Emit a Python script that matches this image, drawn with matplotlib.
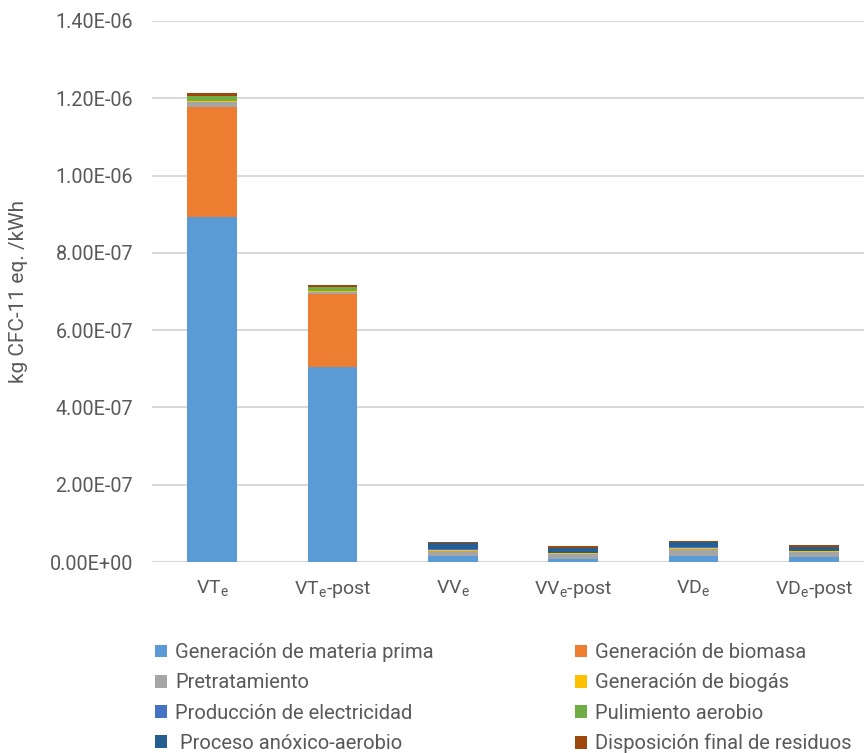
import matplotlib
matplotlib.use("Agg")
import matplotlib.pyplot as plt
from matplotlib.patches import Patch
import numpy as np

plt.rcParams['font.family'] = ['Roboto', 'DejaVu Sans']

categories = [r"VT$_\mathregular{e}$", r"VT$_\mathregular{e}$-post", r"VV$_\mathregular{e}$",
              r"VV$_\mathregular{e}$-post", r"VD$_\mathregular{e}$", r"VD$_\mathregular{e}$-post"]

series_names = ["Generación de materia prima", "Generación de biomasa", "Pretratamiento",
                "Generación de biogás", "Producción de electricidad", "Pulimiento aerobio",
                " Proceso anóxico-aerobio", "Disposición final de residuos"]

materia_prima = [8.93e-7, 5.05e-7, 1.55e-8, 0.90e-8, 1.55e-8, 1.30e-8]
biomasa       = [2.85e-7, 1.88e-7, 0.0, 0.0, 0.0, 0.0]
pretratamiento = [1.30e-8, 0.70e-8, 1.30e-8, 1.10e-8, 1.70e-8, 1.20e-8]
biogas        = [0.10e-8, 0.05e-8, 0.25e-8, 0.25e-8, 0.25e-8, 0.25e-8]
electricidad  = [0.15e-8, 0.15e-8, 0.30e-8, 0.20e-8, 0.30e-8, 0.20e-8]
pulimiento    = [1.30e-8, 1.00e-8, 0.0, 0.0, 0.0, 0.0]
anoxico       = [0.05e-8, 0.05e-8, 1.60e-8, 1.20e-8, 1.50e-8, 0.90e-8]
disposicion   = [0.70e-8, 0.50e-8, 0.20e-8, 0.40e-8, 0.20e-8, 0.50e-8]

series = [materia_prima, biomasa, pretratamiento, biogas, electricidad, pulimiento, anoxico, disposicion]
colors = ["#5B9BD5", "#ED7D31", "#A5A5A5", "#FFC000", "#4472C4", "#70AD47", "#255E91", "#9E480E"]

yticks = [0, 2e-7, 4e-7, 6e-7, 8e-7, 1.0e-6, 1.2e-6, 1.4e-6]
ytick_labels = ["0.00E+00", "2.00E-07", "4.00E-07", "6.00E-07", "8.00E-07", "1.00E-06", "1.20E-06", "1.40E-06"]

W, H = 864, 753
fig = plt.figure(figsize=(W/100, H/100), dpi=100)
ax_left, ax_right, ax_top, ax_bottom = 152, 874, 21, 562
ax = fig.add_axes([ax_left/W, 1 - ax_bottom/H, (ax_right-ax_left)/W, (ax_bottom-ax_top)/H])

x = np.arange(len(categories))
bottom = np.zeros(len(categories))
for vals, c, name in zip(series, colors, series_names):
    ax.bar(x, vals, bottom=bottom, width=0.41, color=c, label=name, zorder=3, linewidth=0)
    bottom += np.array(vals)

ax.set_xlim(-0.5, len(categories) - 0.5)
ax.set_ylim(0, 1.4e-6)
ax.set_yticks(yticks)
ax.set_yticklabels(ytick_labels)
ax.set_xticks(x)
ax.set_xticklabels(categories)
ax.yaxis.grid(True, color="#D9D9D9", linewidth=1.5, zorder=0)
ax.set_axisbelow(True)
for s in ax.spines.values():
    s.set_visible(False)
ax.tick_params(axis='both', length=0, colors="#595959")
ax.tick_params(axis='y', pad=13.5, labelsize=14.2)
ax.tick_params(axis='x', pad=12, labelsize=14)
ax.set_ylabel("kg CFC-11 eq. /kWh", fontsize=15, color="#595959")
ax.yaxis.set_label_coords((28 - ax_left) / (ax_right - ax_left), 0.5)

handles = [Patch(facecolor=c, edgecolor='none') for c in colors]
col1 = [0, 2, 4, 6]
col2 = [1, 3, 5, 7]
kw = dict(fontsize=14.5, frameon=False, handlelength=0.6, handleheight=0.6,
          handletextpad=0.4, labelspacing=0.56, labelcolor="#595959", borderpad=0, borderaxespad=0)
l1 = fig.legend([handles[i] for i in col1], [series_names[i] for i in col1],
                loc='upper left', bbox_to_anchor=(155/W, 1 - 643/H), **kw)
l2 = fig.legend([handles[i] for i in col2], [series_names[i] for i in col2],
                loc='upper left', bbox_to_anchor=(575/W, 1 - 643/H), **kw)

fig.savefig("out.png", dpi=100)
